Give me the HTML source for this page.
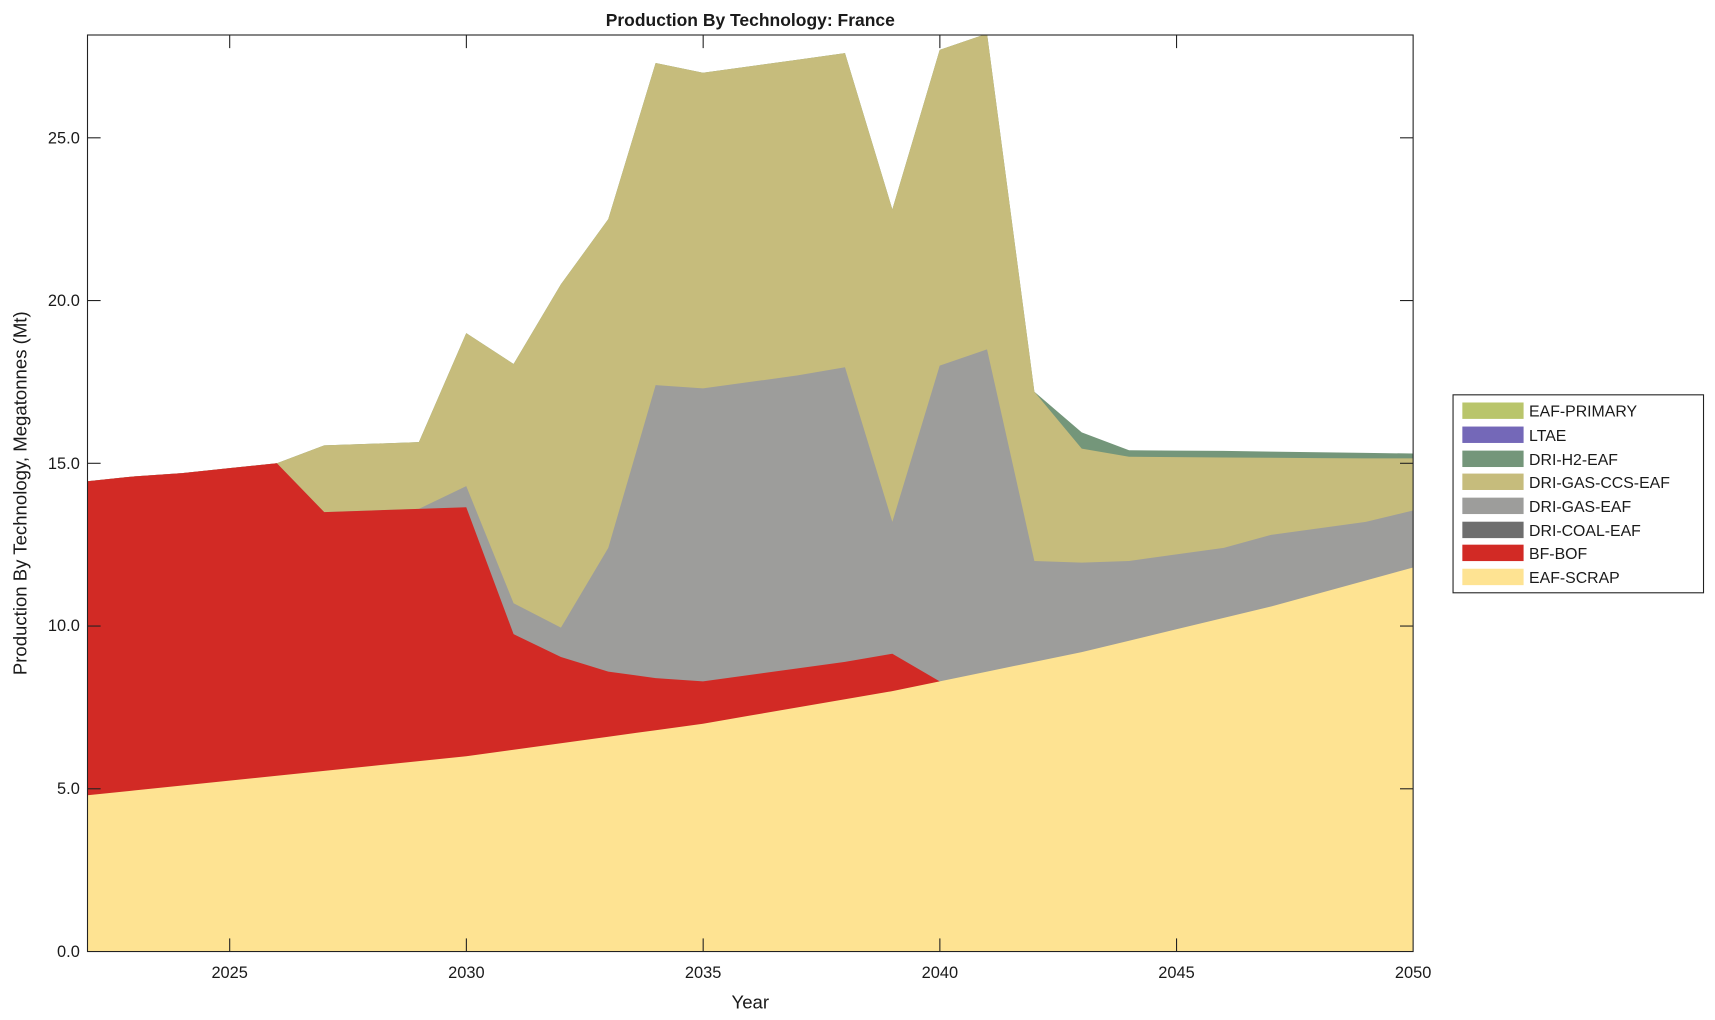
<!DOCTYPE html>
<html><head><meta charset="utf-8"><style>html,body{margin:0;padding:0;background:#fff}svg{display:block}text{font-family:"Liberation Sans",Arial,sans-serif;fill:#1a1a1a}</style></head>
<body>
<svg width="1715" height="1020" viewBox="0 0 1568 932.6" preserveAspectRatio="none" xmlns="http://www.w3.org/2000/svg">
<defs><clipPath id="c"><rect x="80" y="32" width="1212" height="838"/></clipPath></defs>
<g clip-path="url(#c)">
<g transform="translate(80,870) scale(43.2857,-29.76)">
<polygon fill="#74967a" points="0,14.45 1,14.6 2,14.7 3,14.85 4,15 5,15.55 6,15.6 7,15.65 8,19 9,18.05 10,20.5 11,22.5 12,27.3 13,27 14,27.2 15,27.4 16,27.6 17,22.8 18,27.7 19,28.2 20,17.2 21,15.95 22,15.4 23,15.39 24,15.38 25,15.36 26,15.34 27,15.32 28,15.3 28,0 0,0"/>
<polygon fill="#c6bc7c" points="0,14.45 1,14.6 2,14.7 3,14.85 4,15 5,15.55 6,15.6 7,15.65 8,19 9,18.05 10,20.5 11,22.5 12,27.3 13,27 14,27.2 15,27.4 16,27.6 17,22.8 18,27.7 19,28.2 20,17.2 21,15.45 22,15.2 23,15.19 24,15.18 25,15.17 26,15.16 27,15.15 28,15.15 28,0 0,0"/>
<polygon fill="#9d9d9b" points="0,14.45 1,14.6 2,14.7 3,14.85 4,15 5,13.5 6,13.55 7,13.6 8,14.3 9,10.7 10,9.95 11,12.4 12,17.4 13,17.3 14,17.5 15,17.7 16,17.95 17,13.2 18,18 19,18.5 20,12 21,11.95 22,12 23,12.2 24,12.4 25,12.8 26,13 27,13.2 28,13.55 28,0 0,0"/>
<polygon fill="#d22a25" points="0,14.45 1,14.6 2,14.7 3,14.85 4,15 5,13.5 6,13.55 7,13.6 8,13.65 9,9.75 10,9.05 11,8.6 12,8.4 13,8.3 14,8.5 15,8.7 16,8.9 17,9.15 18,8.3 18,0 0,0"/>
<polygon fill="#fee392" points="0,4.8 1,4.95 2,5.1 3,5.25 4,5.4 5,5.55 6,5.7 7,5.85 8,6 9,6.2 10,6.4 11,6.6 12,6.8 13,7 14,7.25 15,7.5 16,7.75 17,8 18,8.3 19,8.6 20,8.9 21,9.2 22,9.55 23,9.9 24,10.25 25,10.6 26,11 27,11.4 28,11.8 28,0 0,0"/>
</g></g>
<rect x="80" y="32" width="1212" height="838" fill="none" stroke="#222" stroke-width="1"/>
<g stroke="#222" stroke-width="1">
<line x1="210" y1="870" x2="210" y2="858"/><line x1="426.4" y1="870" x2="426.4" y2="858"/><line x1="642.9" y1="870" x2="642.9" y2="858"/><line x1="859.3" y1="870" x2="859.3" y2="858"/><line x1="1075.7" y1="870" x2="1075.7" y2="858"/>
<line x1="210" y1="32" x2="210" y2="44"/><line x1="426.4" y1="32" x2="426.4" y2="44"/><line x1="642.9" y1="32" x2="642.9" y2="44"/><line x1="859.3" y1="32" x2="859.3" y2="44"/><line x1="1075.7" y1="32" x2="1075.7" y2="44"/>
<line x1="80" y1="721.2" x2="92" y2="721.2"/><line x1="80" y1="572.4" x2="92" y2="572.4"/><line x1="80" y1="423.6" x2="92" y2="423.6"/><line x1="80" y1="274.8" x2="92" y2="274.8"/><line x1="80" y1="126" x2="92" y2="126"/>
<line x1="1292" y1="721.2" x2="1280" y2="721.2"/><line x1="1292" y1="572.4" x2="1280" y2="572.4"/><line x1="1292" y1="423.6" x2="1280" y2="423.6"/><line x1="1292" y1="274.8" x2="1280" y2="274.8"/><line x1="1292" y1="126" x2="1280" y2="126"/>
</g>
<g font-size="15" text-anchor="middle">
<text x="210" y="894">2025</text><text x="426.4" y="894">2030</text><text x="642.9" y="894">2035</text><text x="859.3" y="894">2040</text><text x="1075.7" y="894">2045</text><text x="1292" y="894">2050</text>
</g>
<g font-size="15" text-anchor="end">
<text x="73" y="875">0.0</text><text x="73" y="726">5.0</text><text x="73" y="577">10.0</text><text x="73" y="429">15.0</text><text x="73" y="280">20.0</text><text x="73" y="131">25.0</text>
</g>
<text x="686" y="922" font-size="17" text-anchor="middle">Year</text>
<text transform="translate(24,451) rotate(-90)" font-size="17" text-anchor="middle">Production By Technology, Megatonnes (Mt)</text>
<text x="686" y="24" font-size="16" font-weight="bold" text-anchor="middle">Production By Technology: France</text>
<rect x="1328.5" y="361" width="229" height="181" fill="#fff" stroke="#222" stroke-width="1"/>
<g font-size="14.5">
<rect x="1337" y="368" width="56" height="15" fill="#b9c56b"/><text x="1398" y="381">EAF-PRIMARY</text>
<rect x="1337" y="390" width="56" height="15" fill="#7468b8"/><text x="1398" y="403">LTAE</text>
<rect x="1337" y="412" width="56" height="15" fill="#74967a"/><text x="1398" y="425">DRI-H2-EAF</text>
<rect x="1337" y="433" width="56" height="15" fill="#c6bc7c"/><text x="1398" y="446">DRI-GAS-CCS-EAF</text>
<rect x="1337" y="455" width="56" height="15" fill="#9d9d9b"/><text x="1398" y="468">DRI-GAS-EAF</text>
<rect x="1337" y="477" width="56" height="15" fill="#6e6e6e"/><text x="1398" y="490">DRI-COAL-EAF</text>
<rect x="1337" y="498" width="56" height="15" fill="#d22a25"/><text x="1398" y="511">BF-BOF</text>
<rect x="1337" y="520" width="56" height="15" fill="#fee392"/><text x="1398" y="533">EAF-SCRAP</text>
</g>
</svg>
</body></html>
